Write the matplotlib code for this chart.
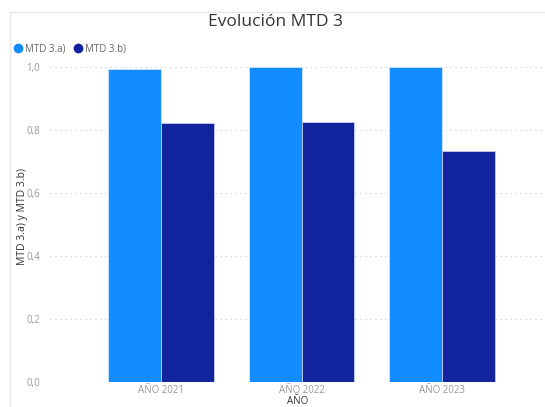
import matplotlib
matplotlib.use("Agg")
import numpy as np
import matplotlib.pyplot as plt
from matplotlib.lines import Line2D

# datos
categorias = ["AÑO 2021", "AÑO 2022", "AÑO 2023"]
mtd_3a = [0.995, 1.0, 1.0]
mtd_3b = [0.823, 0.825, 0.734]
series = ["MTD 3.a)", "MTD 3.b)"]
yticks = [0.0, 0.2, 0.4, 0.6, 0.8, 1.0]
ytick_labels = ["0,0", "0,2", "0,4", "0,6", "0,8", "1,0"]

COLOR_A = "#118DFF"
COLOR_B = "#12239E"

plt.rcParams["font.family"] = ["Open Sans", "DejaVu Sans"]

W, H = 545, 407
fig = plt.figure(figsize=(W / 100, H / 100), dpi=100)

# ejes en pixeles
x0, x1 = 50, 545
y_zero, y_one = 382, 67
ytop = 1.05
px_per_unit = (y_zero - y_one)
ax_h = px_per_unit * ytop
ax = fig.add_axes([x0 / W, 1 - y_zero / H, (x1 - x0) / W, ax_h / H])

x = np.arange(len(categorias))
w = 0.377
ax.bar(x - w / 2, mtd_3a, w, color=COLOR_A, edgecolor="#cfe4ff", linewidth=0.6, label=series[0], zorder=3)
ax.bar(x + w / 2, mtd_3b, w, color=COLOR_B, edgecolor="#c9cdf0", linewidth=0.6, label=series[1], zorder=3)

ax.set_xlim(-0.79, 2.733)
ax.set_ylim(0, ytop)
ax.set_yticks(yticks)
ax.set_yticklabels(ytick_labels)
ax.set_xticks(x)
ax.set_xticklabels(categorias)
ax.tick_params(axis="both", length=0, labelsize=7, labelcolor="#999999")
ax.tick_params(axis="y", pad=7)
ax.tick_params(axis="x", pad=2)
ax.grid(axis="y", color="#c8c8c8", linestyle=(0, (1, 3.5)), linewidth=0.8, zorder=0)
for s in ax.spines.values():
    s.set_visible(False)

ax.set_ylabel("MTD 3.a) y MTD 3.b)", fontsize=7.5, color="#333333", labelpad=-1)
ax.set_xlabel("AÑO", fontsize=7, color="#333333", labelpad=0)

fig.text(276 / W, 1 - 22 / H, "Evolución MTD 3", ha="center", va="center",
         fontsize=12.5, color="#333333")

handles = [Line2D([], [], marker="o", linestyle="none", markersize=6, color=COLOR_A),
           Line2D([], [], marker="o", linestyle="none", markersize=6, color=COLOR_B)]
fig.legend(handles, series, loc="center left", bbox_to_anchor=(13 / W, 1 - 49 / H),
           ncol=2, frameon=False, fontsize=7, labelcolor="#666666",
           handletextpad=0.2, columnspacing=0.8, handlelength=1.0, borderaxespad=0, borderpad=0)

# marco del visual
fig.add_artist(Line2D([10 / W, 10 / W], [0, 1 - 12 / H], color="#e6e6e6", linewidth=1))
fig.add_artist(Line2D([10 / W, 1], [1 - 12 / H, 1 - 12 / H], color="#e6e6e6", linewidth=1))

fig.savefig("out.png", dpi=100)
